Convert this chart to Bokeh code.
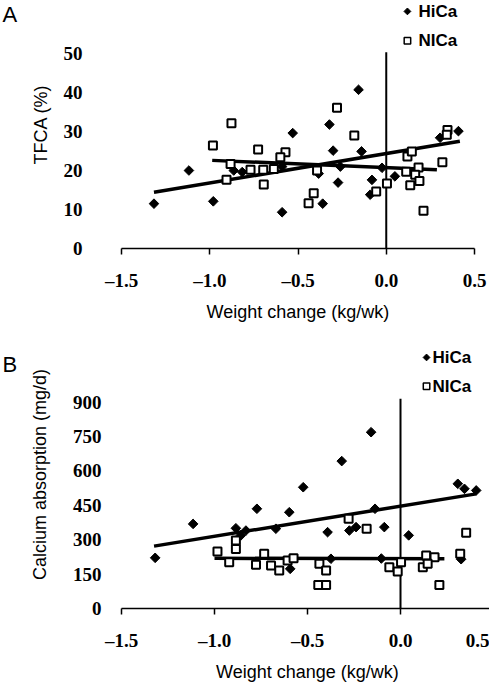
import math
from bokeh.plotting import figure
from bokeh.layouts import column
from bokeh.models import FixedTicker, Label
from bokeh.core.properties import value
from bokeh.embed import file_html
from bokeh.resources import INLINE

# ---------------- data ----------------
x_ticks = [-1.5, -1.0, -0.5, 0.0, 0.5]
x_tick_labels = ["–1.5", "–1.0", "–0.5", "0.0", "0.5"]
a_y_ticks = [0, 10, 20, 30, 40, 50]
b_y_ticks = [0, 150, 300, 450, 600, 750, 900]
series_names = ["HiCa", "NICa"]

# Panel A: TFCA (%)
a_hica_x = [-1.316, -1.118, -0.980, -0.864, -0.816, -0.590, -0.530, -0.590, -0.383, -0.360,
            -0.322, -0.301, -0.273, -0.260, -0.157, -0.140, -0.081, -0.091, -0.024, 0.049,
            0.305, 0.409]
a_hica_y = [11.5, 20.0, 12.1, 20.0, 19.6, 9.3, 29.6, 21.0, 19.2, 11.5,
            31.8, 25.1, 16.9, 21.0, 40.7, 24.9, 17.6, 13.8, 20.7, 18.5,
            28.4, 30.1]
a_nica_x = [-0.877, -0.982, -0.726, -0.571, -0.600, -0.279, -0.181, -0.905, -0.882, -0.769,
            -0.697, -0.637, -0.694, -0.411, -0.440, -0.392, -0.057, 0.004, 0.120, 0.145,
            0.113, 0.183, 0.164, 0.188, 0.136, 0.211, 0.318, 0.347, 0.343]
a_nica_y = [32.1, 26.4, 25.4, 24.7, 23.4, 36.1, 29.0, 17.6, 21.7, 20.2,
            20.2, 20.4, 16.4, 14.2, 11.6, 20.0, 14.6, 16.7, 23.6, 24.9,
            19.7, 20.8, 18.9, 17.3, 16.2, 9.7, 22.1, 30.4, 29.2]
a_hica_fit_x = [-1.316, 0.417]
a_hica_fit_y = [14.4, 27.5]
a_nica_fit_x = [-0.986, 0.287]
a_nica_fit_y = [22.6, 20.2]
a_vline_top = 50.3

# Panel B: Calcium absorption (mg/d)
b_hica_x = [-1.319, -1.115, -0.885, -0.858, -0.831, -0.772, -0.670, -0.598, -0.593, -0.523,
            -0.392, -0.374, -0.316, -0.275, -0.239, -0.158, -0.137, -0.103, -0.087, 0.044,
            0.308, 0.326, 0.344, 0.407]
b_hica_y = [221, 369, 350, 319, 340, 435, 348, 420, 173, 529,
            333, 217, 643, 340, 355, 769, 435, 218, 355, 319,
            544, 215, 522, 515]
b_nica_x = [-0.984, -0.885, -0.885, -0.921, -0.777, -0.733, -0.696, -0.652, -0.607, -0.575,
            -0.436, -0.400, -0.442, -0.400, -0.279, -0.182, -0.060, -0.015, 0.003, 0.120,
            0.138, 0.183, 0.146, 0.209, 0.321, 0.353]
b_nica_y = [249, 297, 260, 202, 191, 239, 188, 166, 209, 219,
            195, 166, 103, 103, 391, 348, 180, 161, 202, 180,
            231, 224, 195, 103, 239, 330]
b_hica_fit_x = [-1.325, 0.407]
b_hica_fit_y = [272, 500]
b_nica_fit_x = [-1.0, 0.236]
b_nica_fit_y = [219, 217]
b_vline_top = 915


def make_panel(letter, ylabel, y_ticks, y_top, hx, hy, nx, ny, hfx, hfy, nfx, nfy, vtop,
               fw, fh, bl, br, bb, ylab_standoff, ytitle_standoff, leg, lab):
    p = figure(frame_width=fw, frame_height=fh, x_range=(-1.5, 0.5), y_range=(0, y_top),
               output_backend="svg", toolbar_location=None,
               min_border_left=bl, min_border_right=br, min_border_top=0, min_border_bottom=bb)
    p.outline_line_color = None
    p.xgrid.visible = False
    p.ygrid.visible = False
    p.background_fill_color = "white"
    p.border_fill_color = "white"

    xa = p.xaxis[0]
    xa.ticker = FixedTicker(ticks=x_ticks)
    xa.major_label_overrides = dict(zip(x_ticks, x_tick_labels))
    xa.axis_line_width = 1.5
    xa.axis_line_color = "black"
    xa.major_tick_line_width = 1.5
    xa.major_tick_line_color = "black"
    xa.major_tick_in = 0
    xa.major_tick_out = 6
    xa.minor_tick_line_color = None
    xa.major_label_text_font = "Liberation Serif"
    xa.major_label_text_font_style = "bold"
    xa.major_label_text_font_size = "19px"
    xa.major_label_text_color = "black"
    xa.major_label_standoff = 15
    xa.axis_label = "Weight change (kg/wk)"
    xa.axis_label_text_font = "Liberation Sans"
    xa.axis_label_text_font_style = "normal"
    xa.axis_label_text_font_size = "18px"
    xa.axis_label_text_color = "black"
    xa.axis_label_standoff = 8

    ya = p.yaxis[0]
    ya.ticker = FixedTicker(ticks=y_ticks)
    ya.axis_line_color = None
    ya.major_tick_line_color = None
    ya.minor_tick_line_color = None
    ya.major_tick_in = 0
    ya.major_tick_out = 0
    ya.major_label_text_font = "Liberation Serif"
    ya.major_label_text_font_style = "bold"
    ya.major_label_text_font_size = "19px"
    ya.major_label_text_color = "black"
    ya.major_label_standoff = ylab_standoff
    ya.axis_label = ylabel
    ya.axis_label_text_font = "Liberation Sans"
    ya.axis_label_text_font_style = "normal"
    ya.axis_label_text_font_size = "18px"
    ya.axis_label_text_color = "black"
    ya.axis_label_standoff = ytitle_standoff

    # zero line
    p.segment(x0=[0], y0=[0], x1=[0], y1=[vtop], line_color="black", line_width=2)
    # fitted lines
    p.line(hfx, hfy, line_color="black", line_width=3.5)
    p.line(nfx, nfy, line_color="black", line_width=3.5)
    # points
    p.scatter(hx, hy, marker="square", angle=math.pi / 4, size=6.8,
              fill_color="black", line_color="black", line_width=1)
    p.scatter(nx, ny, marker="square", size=8,
              fill_color="white", line_color="black", line_width=2)

    # legend (drawn by hand to match the original)
    lx, ltx, ly1, ly2 = leg
    p.scatter([lx], [ly1], marker="square", angle=math.pi / 4, size=4.8,
              fill_color="black", line_color="black", line_width=1)
    p.scatter([lx], [ly2], marker="square", size=6.5,
              fill_color="white", line_color="black", line_width=1.5)
    p.text(x=[ltx, ltx], y=[ly1, ly2], text=series_names,
           text_font=value("Liberation Sans"), text_font_style="bold",
           text_font_size="17px", text_baseline="middle", text_align="left",
           text_color="black")

    # panel letter, in the left margin (canvas pixel units)
    p.add_layout(Label(x=lab[0], y=lab[1], x_units="canvas", y_units="canvas", text=letter,
                       text_font="Liberation Sans", text_font_size="22px",
                       text_baseline="top", text_align="left", text_color="black"), "left")
    return p


pA = make_panel("A", "TFCA (%)", a_y_ticks, 63.6,
                a_hica_x, a_hica_y, a_nica_x, a_nica_y,
                a_hica_fit_x, a_hica_fit_y, a_nica_fit_x, a_nica_fit_y, a_vline_top,
                353, 248, 121, 15, 92, 39, 10,
                (0.12, 0.183, 60.8, 53.3), (2, 1))
pB = make_panel("B", "Calcium absorption (mg/d)", b_y_ticks, 1169,
                b_hica_x, b_hica_y, b_nica_x, b_nica_y,
                b_hica_fit_x, b_hica_fit_y, b_nica_fit_x, b_nica_fit_y, b_vline_top,
                372, 268, 112, 5, 72, 20, 20,
                (0.14, 0.172, 1095, 969), (2, 11))

layout = column(pA, pB, spacing=0)
open("out.html", "w").write(file_html(layout, INLINE))
